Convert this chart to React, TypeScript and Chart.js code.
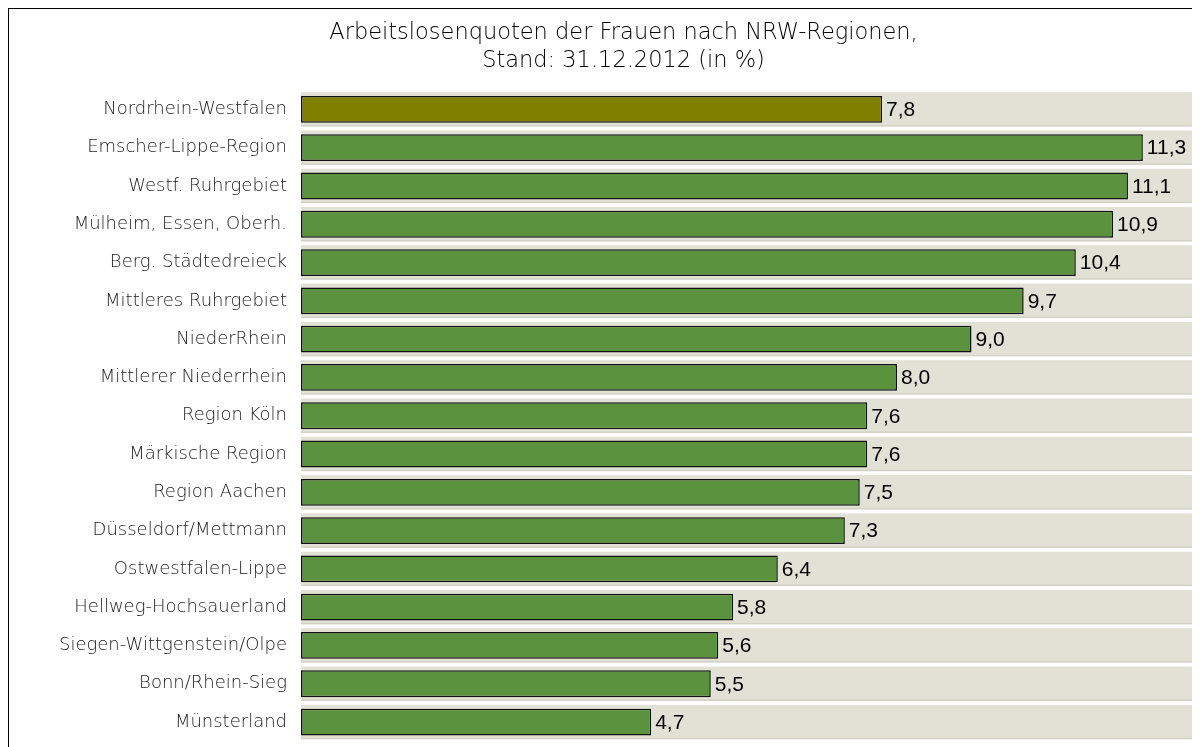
import React, { useEffect, useRef } from "react";
import { Chart, registerables } from "chart.js";

Chart.register(...registerables);

const TITLE_LINES = [
  "Arbeitslosenquoten der Frauen nach NRW-Regionen,",
  "Stand: 31.12.2012 (in %)",
];

const REGIONS = [
  "Nordrhein-Westfalen",
  "Emscher-Lippe-Region",
  "Westf. Ruhrgebiet",
  "Mülheim, Essen, Oberh.",
  "Berg. Städtedreieck",
  "Mittleres Ruhrgebiet",
  "NiederRhein",
  "Mittlerer Niederrhein",
  "Region Köln",
  "Märkische Region",
  "Region Aachen",
  "Düsseldorf/Mettmann",
  "Ostwestfalen-Lippe",
  "Hellweg-Hochsauerland",
  "Siegen-Wittgenstein/Olpe",
  "Bonn/Rhein-Sieg",
  "Münsterland",
];

const RATES = [7.8, 11.3, 11.1, 10.9, 10.4, 9.7, 9.0, 8.0, 7.6, 7.6, 7.5, 7.3, 6.4, 5.8, 5.6, 5.5, 4.7];

const X_MIN = 0;
const X_MAX = 12;

const OLIVE = "#808000";
const GREEN = "#5b923e";
const BAND = "#e1e1d5";
const LIGHT_FONT = "'DejaVu Sans', sans-serif";

const bandPlugin = {
  id: "bands",
  beforeDatasetsDraw(chart: any) {
    const { ctx, chartArea, scales } = chart;
    const y = scales.y;
    const step = REGIONS.length > 1 ? Math.abs(y.getPixelForValue(1) - y.getPixelForValue(0)) : chartArea.height;
    const h = step * 0.9;
    ctx.save();
    REGIONS.forEach((_, i) => {
      const cy = y.getPixelForValue(i);
      ctx.fillStyle = BAND;
      ctx.fillRect(chartArea.left, cy - h / 2, chartArea.right - chartArea.left, h);
      ctx.fillStyle = "rgba(0,0,0,0.07)";
      ctx.fillRect(chartArea.left, cy + h / 2 - 1.5, chartArea.right - chartArea.left, 1.5);
    });
    ctx.restore();
  },
};

const valuePlugin = {
  id: "values",
  afterDatasetsDraw(chart: any) {
    const { ctx } = chart;
    const meta = chart.getDatasetMeta(0);
    ctx.save();
    ctx.font = "21px 'Liberation Sans', sans-serif";
    ctx.fillStyle = "#000";
    ctx.textAlign = "left";
    ctx.textBaseline = "middle";
    meta.data.forEach((bar: any, i: number) => {
      const txt = RATES[i].toFixed(1).replace(".", ",");
      ctx.fillText(txt, bar.x + 4, bar.y + 1);
    });
    ctx.restore();
  },
};

export default function App() {
  const ref = useRef<HTMLCanvasElement | null>(null);
  useEffect(() => {
    if (!ref.current) return;
    const chart = new Chart(ref.current, {
      type: "bar",
      data: {
        labels: REGIONS,
        datasets: [
          {
            data: RATES,
            backgroundColor: RATES.map((_, i) => (i === 0 ? OLIVE : GREEN)),
            borderColor: "#111",
            borderWidth: 1.5,
            borderSkipped: false,
            barPercentage: 0.7,
            categoryPercentage: 1,
          },
        ],
      },
      options: {
        indexAxis: "y",
        animation: false,
        responsive: false,
        maintainAspectRatio: false,
        layout: { padding: { top: 0, right: 60, bottom: 10, left: 43 } },
        plugins: {
          legend: { display: false },
          tooltip: { enabled: false },
          title: {
            display: true,
            text: TITLE_LINES,
            color: "#000",
            font: { size: 22.5, family: LIGHT_FONT, weight: "200", lineHeight: 1.25 },
            padding: { top: 10, bottom: 15 },
          },
        },
        scales: {
          x: {
            display: false,
            min: X_MIN,
            max: X_MAX,
          },
          y: {
            grid: { display: false, drawTicks: false },
            border: { display: false },
            ticks: {
              color: "#1a1a1a",
              padding: 14,
              font: { size: 18, family: LIGHT_FONT, weight: "200" },
            },
            afterFit(scale: any) {
              scale.width = 249;
            },
          },
        },
      },
      plugins: [bandPlugin, valuePlugin],
    });
    return () => chart.destroy();
  }, []);

  return (
    <div
      style={{
        border: "1px solid #000",
        width: 1200,
        height: 770,
        boxSizing: "content-box",
        background: "#fff",
        overflow: "hidden",
      }}
    >
      <canvas ref={ref} width={1246} height={757} style={{ display: "block" }} />
    </div>
  );
}
